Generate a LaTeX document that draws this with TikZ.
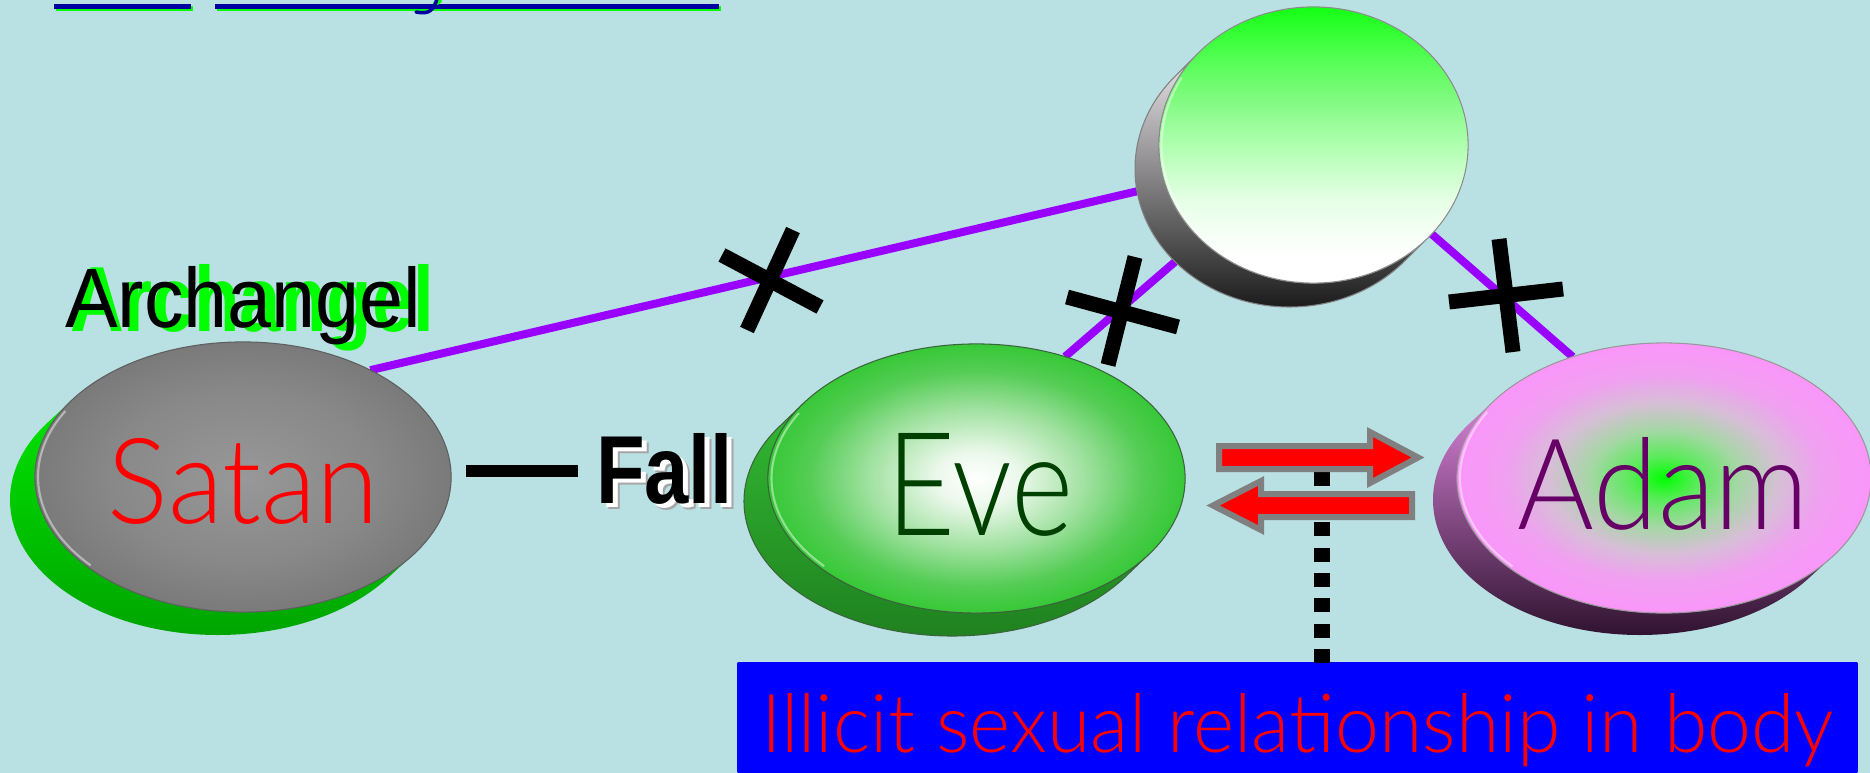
\documentclass[tikz,border=0pt]{standalone}
\usepackage{graphicx}
\usepackage{fontspec}
\setmainfont{Liberation Sans}
\IfFontExistsTF{Lato Light}{\newfontfamily\thinfont{Lato Light}}{%
  \IfFontExistsTF{Fira Sans Light}{\newfontfamily\thinfont{Fira Sans Light}}{%
    \IfFontExistsTF{DejaVu Sans ExtraLight}{\newfontfamily\thinfont{DejaVu Sans ExtraLight}}{\newfontfamily\thinfont{Fira Sans}}}}
\usetikzlibrary{shapes.geometric}
\pgfdeclarelayer{bg}\pgfdeclarelayer{back}
\pgfsetlayers{bg,back,main}
% colours
\definecolor{bgc}{RGB}{185,224,227}
\definecolor{purp}{RGB}{153,0,255}
\definecolor{ulblue}{RGB}{0,0,160}
\definecolor{lime}{RGB}{0,255,0}
\definecolor{evetxt}{RGB}{0,64,0}
\definecolor{adamtxt}{RGB}{102,0,102}
\definecolor{arrgray}{RGB}{128,128,128}
\definecolor{satIn}{RGB}{152,152,152}
\definecolor{satMid}{RGB}{136,136,136}
\definecolor{satOut}{RGB}{122,122,122}
\definecolor{satEdge}{RGB}{95,95,95}
\definecolor{satS1}{RGB}{0,228,0}
\definecolor{satS2}{RGB}{0,160,0}
\definecolor{eve1}{RGB}{235,248,235}
\definecolor{eve2}{RGB}{160,225,160}
\definecolor{eve3}{RGB}{85,205,85}
\definecolor{eve4}{RGB}{55,200,55}
\definecolor{eveEdge}{RGB}{60,100,60}
\definecolor{eveS1}{RGB}{50,185,50}
\definecolor{eveS2}{RGB}{30,125,30}
\definecolor{ad1}{RGB}{90,235,90}
\definecolor{ad2}{RGB}{165,215,165}
\definecolor{ad3}{RGB}{215,190,215}
\definecolor{ad4}{RGB}{240,160,240}
\definecolor{ad5}{RGB}{250,150,250}
\definecolor{adS1}{RGB}{215,130,215}
\definecolor{adS2}{RGB}{165,90,165}
\definecolor{adS3}{RGB}{35,10,35}
\definecolor{tp1}{RGB}{230,255,230}
\definecolor{tp2}{RGB}{175,255,175}
\definecolor{tp3}{RGB}{130,250,130}
\definecolor{tp4}{RGB}{75,255,75}
\definecolor{tp5}{RGB}{20,255,20}
\definecolor{tpS1}{RGB}{235,232,235}
\definecolor{tpS2}{RGB}{150,148,150}
\definecolor{tpS3}{RGB}{15,15,15}
\definecolor{boxdark}{RGB}{0,0,150}
% shadings
\pgfdeclareradialshading{satansh}{\pgfpoint{0bp}{0bp}}{color(0bp)=(satIn); color(16bp)=(satMid); color(25bp)=(satOut); color(50bp)=(satOut)}
\pgfdeclareradialshading{evesh}{\pgfpoint{0bp}{0bp}}{color(0bp)=(white); color(5bp)=(eve1); color(13bp)=(eve2); color(20bp)=(eve3); color(25bp)=(eve4); color(50bp)=(eve4)}
\pgfdeclareradialshading{adamsh}{\pgfpoint{0bp}{0bp}}{color(0bp)=(lime); color(4bp)=(ad1); color(9bp)=(ad2); color(14bp)=(ad3); color(19bp)=(ad4); color(25bp)=(ad5); color(50bp)=(ad5)}
\pgfdeclareverticalshading{topsh}{100bp}{color(0bp)=(white); color(30bp)=(white); color(40bp)=(tp1); color(50bp)=(tp2); color(58bp)=(tp3); color(67bp)=(tp4); color(75bp)=(tp5); color(100bp)=(tp5)}
% side band of an extruded disc: #1 centre, #2 rx, #3 ry, #4 shift, #5 unshift, #6 angle, #7 angle+180, #8 style
\newcommand\discside[8]{%
  \path[#8] ([shift={#4}]#1) ++(#6:#2 and #3)
    arc[start angle=#6, end angle=#7, x radius=#2, y radius=#3]
    -- ++#5
    arc[start angle=#7, end angle=#6, x radius=#2, y radius=#3] -- cycle;}
\tikzset{
  disc/.style={ellipse, inner sep=0pt, outer sep=0pt, shade, line width=0.3pt},
  lbl/.style={inner sep=0pt, outer sep=0pt},
  conn/.style={purp, line width=0.08cm},
  xmark/.style={black, line width=0.15cm},
  rim/.style={white, opacity=0.45, line width=0.6pt},
  blockarrow/.style={fill=red, draw=arrgray, line width=0.06cm, line join=miter},
  dotline/.style={black, line width=0.16cm, dash pattern=on 0.14cm off 0.113cm},
  fallbar/.style={black, line width=0.12cm},
}
\begin{document}
\begin{tikzpicture}[x=0.01cm, y=0.01cm]
\useasboundingbox (0,0) rectangle (1870,-773);
\begin{pgfonlayer}{bg}
  \fill[bgc] (0,0) rectangle (1870,-773);
\end{pgfonlayer}

% title remnants (underlines)
\fill[lime] (56,-6) rectangle (193,-11);
\fill[ulblue] (54,-4) rectangle (191,-9);
\fill[lime] (217,-6) rectangle (721,-11);
\fill[ulblue] (215,-4) rectangle (719,-9);
\draw[lime, line width=0.03cm] (441,0) .. controls (439,-3) and (437,-4) .. (433,-4);
\draw[ulblue, line width=0.035cm, line cap=round] (437,1) .. controls (434,-9) and (430,-15) .. (416,-12);

% ---- Satan disc
\coordinate (sC) at (243,-477);
\discside{sC}{208}{135}{(-25,-23)}{(25,23)}{144.8}{324.8}{top color=satS1, bottom color=satS2}
\node[disc, shading=satansh, draw=satEdge, minimum width=4.16cm, minimum height=2.70cm] (satan) at (sC) {};
\draw[rim] (sC) ++(150:205 and 132) arc[start angle=150, end angle=222, x radius=205, y radius=132];
\node[lbl, text=red, anchor=base] (satanlbl) at (243.5,-523) {\resizebox{2.71cm}{0.85cm}{\thinfont Satan}};

% ---- Eve disc
\coordinate (eC) at (976.5,-478.5);
\discside{eC}{208.5}{134.5}{(-24,-23)}{(24,23)}{145.9}{325.9}{top color=eveS1, bottom color=eveS2, draw=eveEdge, line width=0.3pt}
\node[disc, shading=evesh, draw=eveEdge, minimum width=4.17cm, minimum height=2.69cm] (eve) at (eC) {};
\draw[rim] (eC) ++(150:205 and 131) arc[start angle=150, end angle=222, x radius=205, y radius=131];
\node[lbl, text=evetxt, anchor=base] (evelbl) at (980,-535) {\resizebox{1.86cm}{1.02cm}{\thinfont Eve}};

% ---- Adam disc
\coordinate (aC) at (1664,-478);
\discside{aC}{207}{135}{(-24,-22)}{(24,22)}{144.6}{324.6}{top color=adS1, middle color=adS2, bottom color=adS3}
\node[disc, shading=adamsh, draw=black!40, minimum width=4.14cm, minimum height=2.70cm] (adam) at (aC) {};
\draw[rim] (aC) ++(150:204 and 132) arc[start angle=150, end angle=222, x radius=204, y radius=132];
\node[lbl, text=adamtxt, anchor=base] (adamlbl) at (1663.5,-529) {\resizebox{2.91cm}{0.92cm}{\thinfont Adam}};

% ---- top disc (unnamed)
\coordinate (tC) at (1313.5,-145);
\discside{tC}{154.5}{138}{(-24,-24)}{(24,24)}{138.2}{318.2}{top color=tpS1, middle color=tpS2, bottom color=tpS3, draw=black!50, line width=0.3pt}
\node[disc, shading=topsh, draw=black!45, minimum width=3.09cm, minimum height=2.76cm] (topd) at (tC) {};
\draw[rim] (tC) ++(150:152 and 135) arc[start angle=150, end angle=225, x radius=152, y radius=135];

% ---- purple connectors (behind the discs)
\begin{pgfonlayer}{back}
  \draw[conn] (satan.40) -- (topd.195);
  \draw[conn] (eve.54) -- (topd.220);
  \draw[conn] (topd.323) -- (adam.127);
\end{pgfonlayer}

% ---- crosses on the connectors
\coordinate (x1) at (771,-281);
\coordinate (x2) at (1122,-312);
\coordinate (x3) at (1506,-295.5);
\draw[xmark] (x1) ++(-49,26) -- ++(98,-52);
\draw[xmark] (x1) ++(22,51) -- ++(-46,-100);
\draw[xmark] (x2) ++(-55,15) -- ++(111,-30);
\draw[xmark] (x2) ++(13,55) -- ++(-27,-108);
\draw[xmark] (x3) ++(-57,-6.5) -- ++(114,13);
\draw[xmark] (x3) ++(-7,56.5) -- ++(14,-113);

% ---- Archangel
\node[lbl, text=lime, anchor=base west] (archG) at (70,-331) {\resizebox{3.64cm}{0.67cm}{\bfseries Archangel}};
\node[lbl, text=black, anchor=base west] (arch) at (65,-327) {\resizebox{3.56cm}{0.61cm}{Archangel}};

% ---- Fall
\coordinate (barL) at (466,-471);
\node[lbl, text=black!35, anchor=base west] (fallS) at (603,-509) {\resizebox{1.37cm}{0.70cm}{\bfseries Fall}};
\node[lbl, text=white, anchor=base west] (fallW) at (601,-507) {\resizebox{1.37cm}{0.70cm}{\bfseries Fall}};
\node[lbl, text=black, anchor=base west] (fall) at (596,-503) {\resizebox{1.37cm}{0.70cm}{\bfseries Fall}};
\draw[fallbar] (barL) -- ++(112,0);

% ---- relationship box, dotted link and arrows
\node[lbl, minimum width=11.19cm, minimum height=1.34cm, top color=blue, middle color=boxdark, bottom color=blue, text=red] (box) at (1297.5,-730) {\resizebox{10.72cm}{0.59cm}{\thinfont Illicit sexual relationship in body}};
\coordinate (dotTop) at (1322,-472);
\draw[dotline] (box.north -| dotTop) -- (dotTop);
\draw[blockarrow] (1219,-446) -- (1370,-446) -- (1370,-432) -- (1418,-457.5) -- (1370,-483) -- (1370,-469) -- (1219,-469) -- cycle;
\draw[blockarrow] (1412,-494) -- (1261,-494) -- (1261,-481) -- (1213,-505.5) -- (1261,-530) -- (1261,-517) -- (1412,-517) -- cycle;
\end{tikzpicture}
\end{document}
